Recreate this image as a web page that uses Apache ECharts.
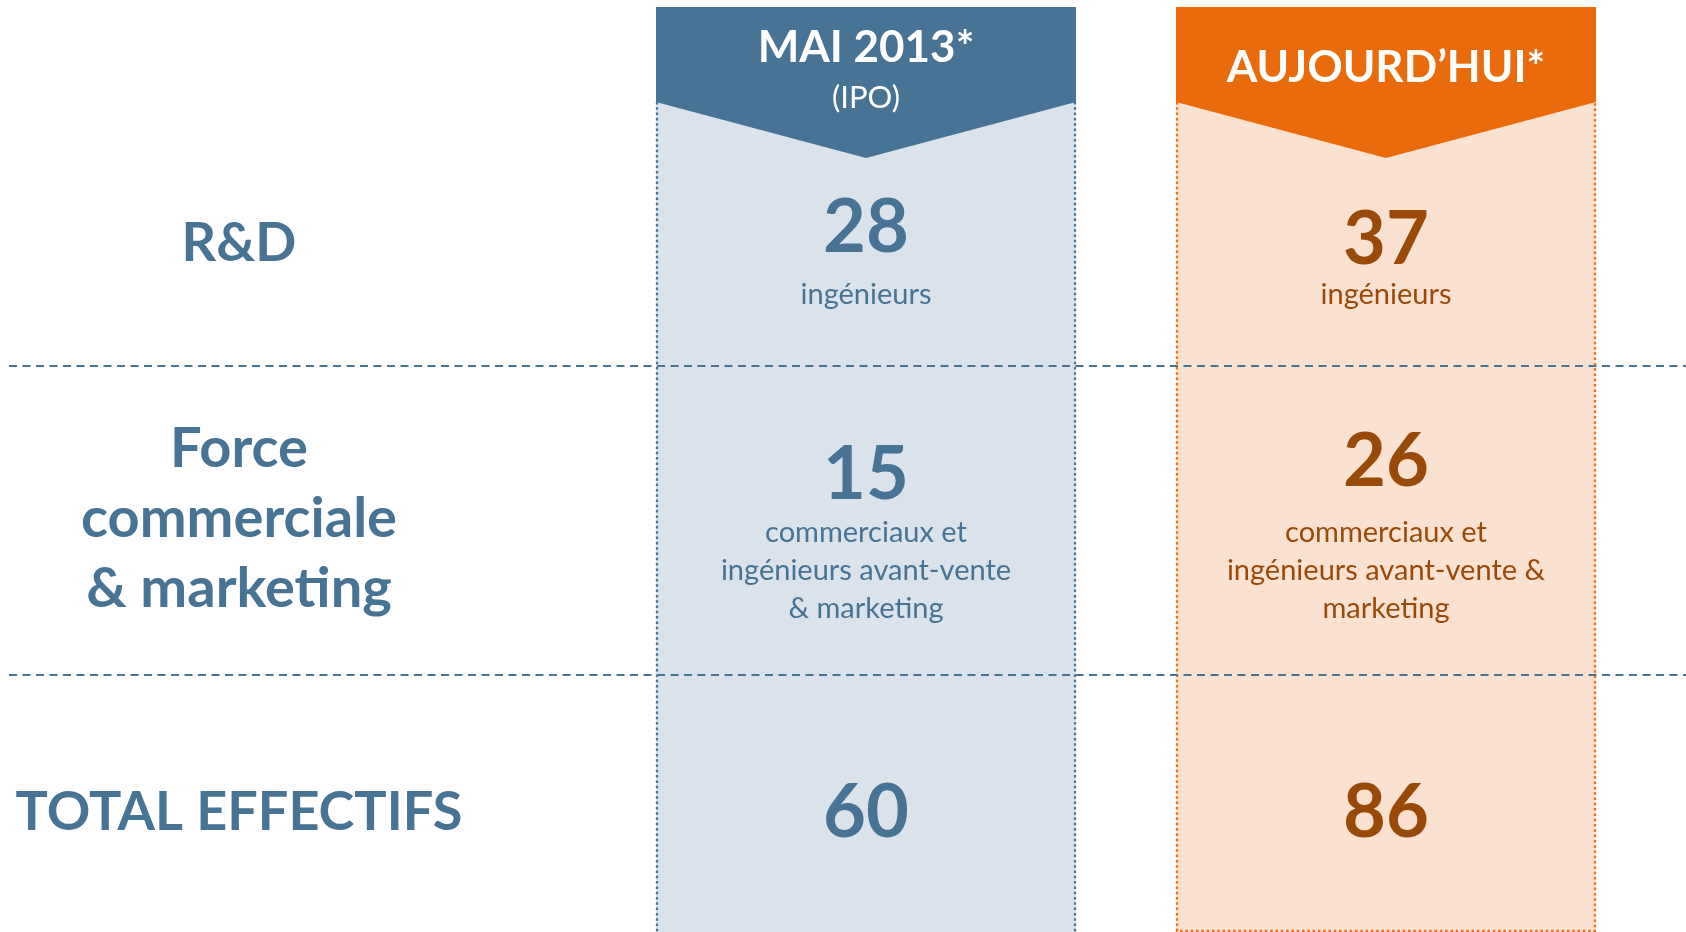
<!DOCTYPE html>
<html>
<head>
<meta charset="utf-8">
<style>
  html, body { margin: 0; padding: 0; background: #ffffff; }
  #main { width: 1686px; height: 932px; }
</style>
<script src="https://cdn.jsdelivr.net/npm/echarts@6/dist/echarts.min.js"></script>
</head>
<body>
<div id="main"></div>
<script>
// donnees
var columns = ['MAI 2013*', 'AUJOURD\u2019HUI*'];
var columnSubs = ['(IPO)', ''];
var rowLabels = ['R&D', 'Force\ncommerciale\n& marketing', 'TOTAL EFFECTIFS'];
var mai2013 = [28, 15, 60];
var aujourdhui = [37, 26, 86];
var notesMai = ['ing\u00e9nieurs', 'commerciaux et\ning\u00e9nieurs avant-vente\n& marketing', ''];
var notesAuj = ['ing\u00e9nieurs', 'commerciaux et\ning\u00e9nieurs avant-vente &\nmarketing', ''];

// mise en page
var FONT = 'Lato, "Open Sans", sans-serif';
var colX = [866, 1386];
var colHalf = 210;
var labelX = 239;
var rowLabelY = [244, 519, 813];
var labelSize = [54, 56, 54];
var numY = [[228, 475, 813], [240, 462, 813]];
var noteTop = [[276, 514], [276, 514]];
var rules = [366, 675];
var theme = [
    {head: '#477394', fill: '#dae3eb', border: '#4a7494', text: '#477394', bottom: false},
    {head: '#e96b0c', fill: '#fbe1cf', border: '#ec7118', text: '#9a4a08', bottom: true}
];

var chart = echarts.init(document.getElementById('main'), null, {renderer: 'canvas'});
var g = [];

// colonnes
columns.forEach(function (name, c) {
    var cx = colX[c], l = cx - colHalf, r = cx + colHalf, t = theme[c];
    g.push({type: 'rect', shape: {x: l, y: 7, width: r - l, height: 925}, style: {fill: t.fill}, z: 1});
    var pts = t.bottom
        ? [[l + 1, 102], [l + 1, 931], [r - 1, 931], [r - 1, 102]]
        : [[l + 1, 102], [l + 1, 932]];
    g.push({type: 'polyline', shape: {points: pts},
        style: {stroke: t.border, lineWidth: 2.3, lineDash: [2.5, 2.8], fill: null}, z: 2});
    if (!t.bottom) {
        g.push({type: 'line', shape: {x1: r - 1, y1: 102, x2: r - 1, y2: 932},
            style: {stroke: t.border, lineWidth: 2.3, lineDash: [2.5, 2.8]}, z: 2});
    }
    g.push({type: 'polygon', shape: {points: [[l, 7], [r, 7], [r, 102], [cx, 158], [l, 102]]},
        style: {fill: t.head}, z: 3});
    var values = c === 0 ? mai2013 : aujourdhui;
    var notes = c === 0 ? notesMai : notesAuj;
    values.forEach(function (v, i) {
        g.push({type: 'text', x: cx, y: numY[c][i], z: 5,
            style: {text: String(v), fill: t.text, font: 'bold 74px ' + FONT, align: 'center', verticalAlign: 'middle'}});
        if (notes[i]) {
            g.push({type: 'text', x: cx, y: noteTop[c][i], z: 5,
                style: {text: notes[i], fill: t.text, font: '29px ' + FONT, lineHeight: 38, align: 'center', verticalAlign: 'top'}});
        }
    });
    if (columnSubs[c]) {
        g.push({type: 'text', x: cx, y: 48, z: 5,
            style: {text: name, fill: '#ffffff', font: 'bold 44px ' + FONT, align: 'center', verticalAlign: 'middle'}});
        g.push({type: 'text', x: cx, y: 98, z: 5,
            style: {text: columnSubs[c], fill: '#ffffff', font: '31px ' + FONT, align: 'center', verticalAlign: 'middle'}});
    } else {
        g.push({type: 'text', x: cx, y: 68, z: 5,
            style: {text: name, fill: '#ffffff', font: 'bold 44px ' + FONT, align: 'center', verticalAlign: 'middle'}});
    }
});

// libelles des lignes
rowLabels.forEach(function (lab, i) {
    g.push({type: 'text', x: labelX, y: rowLabelY[i], z: 5,
        style: {text: lab, fill: '#477394', font: 'bold ' + labelSize[i] + 'px ' + FONT, lineHeight: 70, align: 'center', verticalAlign: 'middle'}});
});

// separateurs
rules.forEach(function (y) {
    g.push({type: 'line', shape: {x1: 9, y1: y, x2: 1686, y2: y}, z: 4,
        style: {stroke: '#4a7494', lineWidth: 2, lineDash: [8, 5.5]}});
});

chart.setOption({
    backgroundColor: '#ffffff',
    animation: false,
    graphic: {elements: g}
});
window.onresize = chart.resize;
</script>
</body>
</html>
